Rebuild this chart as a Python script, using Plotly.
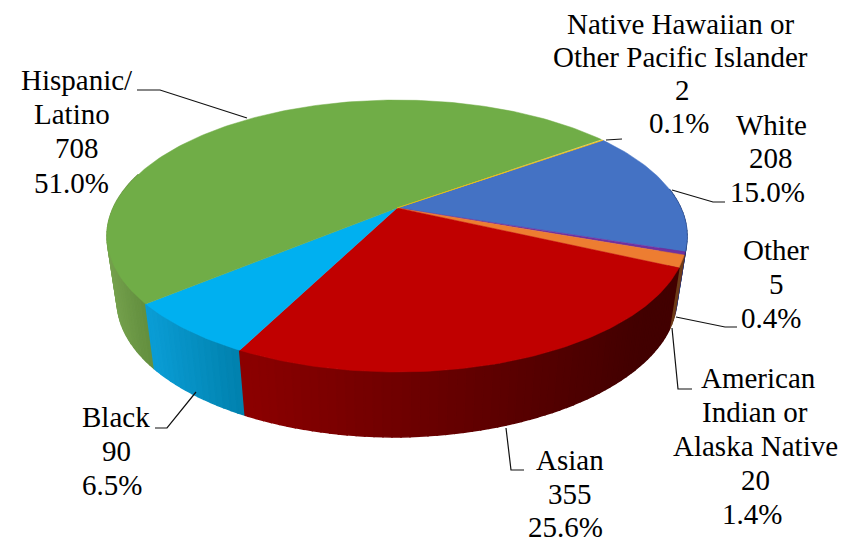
import math
import plotly.graph_objects as go

categories = ["White", "Other", "American Indian or Alaska Native", "Asian", "Black", "Hispanic/Latino", "Native Hawaiian or Other Pacific Islander"]
values = [208, 5, 20, 355, 90, 708, 2]
percent_labels = ["15.0%", "0.4%", "1.4%", "25.6%", "6.5%", "51.0%", "0.1%"]
top_colors = ["#4472C4", "#7030A0", "#ED7D31", "#C00000", "#00B0F0", "#70AD47", "#FFC000"]
# wall shading: colour at left end and right end of each slice's wall
wall_left = [(40, 70, 130), (60, 30, 90), (110, 60, 25), (140, 0, 0), (10, 156, 212), (118, 162, 78), (140, 120, 0)]
wall_right = [(40, 70, 130), (60, 30, 90), (110, 60, 25), (66, 0, 0), (0, 128, 172), (96, 140, 60), (140, 120, 0)]
wall_x_span = [(670, 690), (670, 690), (670, 690), (245, 640), (155, 245), (112, 155), (0, 1)]
first_angle = 54.4

# pie projection
CX, CY, A, B, K = 397, 208, 283.8, 130.2, 0.206
DEPTH, SHRINK = 65, 0.965

def top_pt(deg):
    t = math.radians(deg)
    u, v = math.sin(t), -math.cos(t)
    w = 1 - K * v
    return CX + A * u / w, CY + B * v / w

def bot_pt(deg):
    x, y = top_pt(deg)
    return CX + (x - CX) * SHRINK, y + DEPTH - 3 * max(0, (x - CX) / 290)

total = sum(values)
fig = go.Figure()
edges = []
ang = first_angle
for v in values:
    edges.append((ang, ang + v / total * 360))
    ang += v / total * 360

# walls: painted from both extremes towards the front
wall_quads = []
for i, (a0, a1) in enumerate(edges):
    d = a0
    while d < a1:
        e = min(d + 1.5, a1)
        if 80 <= (d % 360) <= 285:
            wall_quads.append((abs((d % 360) - 180), i, d, e))
        d = e
wall_quads.sort(key=lambda q: -q[0])
for _, i, d, e in wall_quads:
    p = [top_pt(d), top_pt(e), bot_pt(e), bot_pt(d)]
    xm = sum(q[0] for q in p) / 4
    lo, hi = wall_x_span[i]
    f = min(1, max(0, (xm - lo) / (hi - lo)))
    c = [round(wall_left[i][k] + (wall_right[i][k] - wall_left[i][k]) * f) for k in range(3)]
    col = f"rgb({c[0]},{c[1]},{c[2]})"
    fig.add_trace(go.Scatter(x=[q[0] for q in p] + [p[0][0]], y=[q[1] for q in p] + [p[0][1]],
                             mode="lines", fill="toself", fillcolor=col,
                             line=dict(color=col, width=1.5), hoverinfo="skip", showlegend=False))

# top face
for i, (a0, a1) in enumerate(edges):
    n = max(2, int((a1 - a0)))
    pts = [(CX, CY)] + [top_pt(a0 + (a1 - a0) * j / n) for j in range(n + 1)] + [(CX, CY)]
    fig.add_trace(go.Scatter(x=[q[0] for q in pts], y=[q[1] for q in pts], mode="lines", fill="toself",
                             fillcolor=top_colors[i], line=dict(color=top_colors[i], width=0.5),
                             name=categories[i], hoverinfo="name", showlegend=False))

# leader lines
leaders = [
    ([137, 160, 247], [90, 90, 118]),
    ([606, 622], [140, 139]),
    ([672, 713, 725], [190, 202, 202]),
    ([676, 725, 737], [317, 327, 327]),
    ([672, 678, 692], [328, 389, 389]),
    ([506, 511, 524], [428, 470, 470]),
    ([196, 167, 155], [392, 428, 428]),
]
for lx, ly in leaders:
    fig.add_trace(go.Scatter(x=lx, y=ly, mode="lines", line=dict(color="#111111", width=1.2),
                             hoverinfo="skip", showlegend=False))

label_lines = [
    ["Native Hawaiian or", "Other Pacific Islander", "2", "0.1%"],
    ["White", "208", "15.0%"],
    ["Other", "5", "0.4%"],
    ["American", "Indian or", "Alaska Native", "20", "1.4%"],
    ["Asian", "355", "25.6%"],
    ["Black", "90", "6.5%"],
    ["Hispanic/", "Latino", "708", "51.0%"],
]
label_x = [[680, 680, 682, 679], [771, 771, 767], [776, 776, 771], [758, 755, 755, 755, 752], [570, 570, 565], [116, 116, 112], [77, 72, 77, 71]]
label_y = [[24, 57, 90, 123], [125, 158, 192], [250, 284, 318], [378, 412, 446, 480, 514], [460, 494, 527], [417, 451, 485], [80, 114, 148, 183]]
for lines, xs, ys in zip(label_lines, label_x, label_y):
    for t, x, y in zip(lines, xs, ys):
        fig.add_annotation(x=x, y=y, text=t, showarrow=False, xanchor="center", yanchor="middle",
                           font=dict(family="Liberation Serif", size=29, color="#000000"))

# the page body has an 8 px margin: the axes run from 8 so data coordinates match the window
fig.update_layout(width=851, height=534, margin=dict(l=0, r=0, t=0, b=0), paper_bgcolor="white",
                  plot_bgcolor="white", showlegend=False,
                  xaxis=dict(range=[8, 859], visible=False, fixedrange=True),
                  yaxis=dict(range=[542, 8], visible=False, fixedrange=True))
fig.write_html("out.html")
